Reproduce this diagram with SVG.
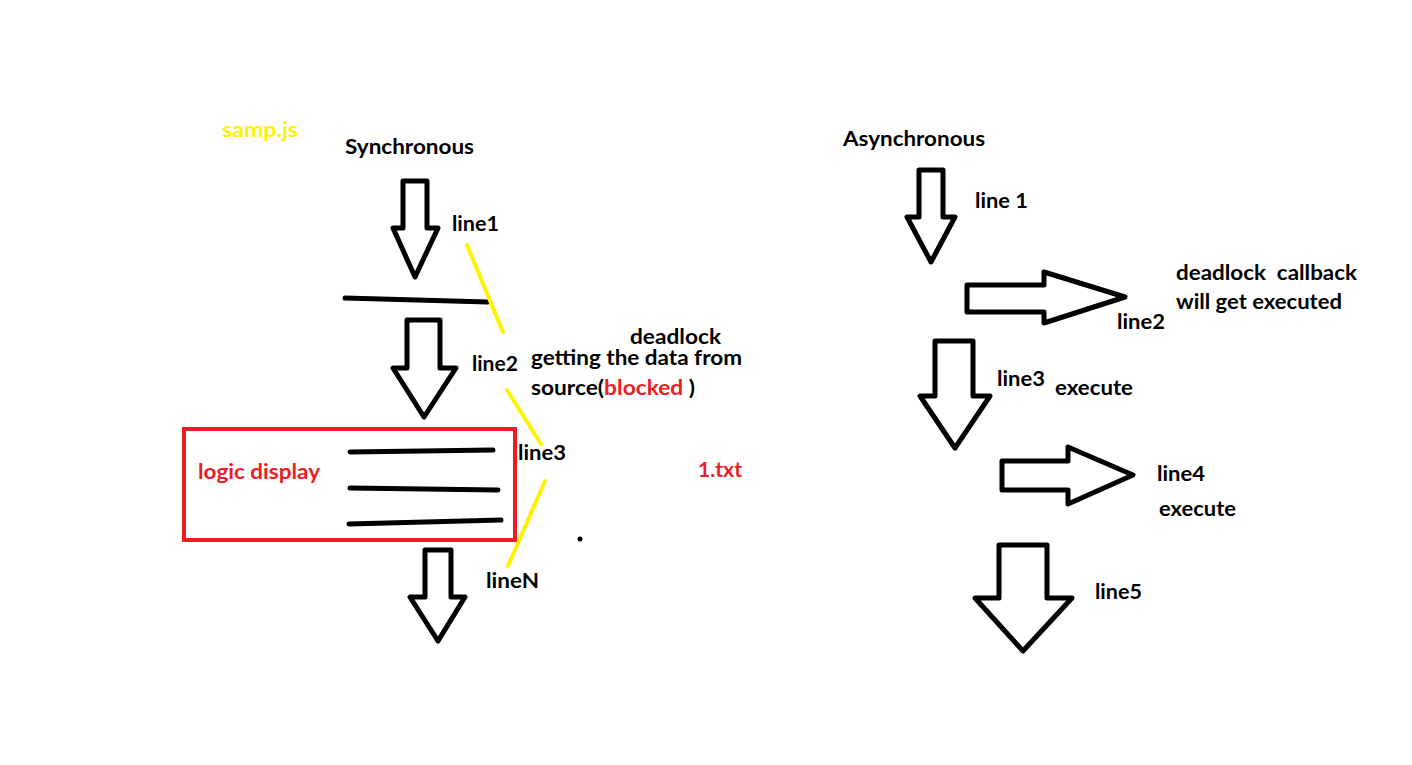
<svg xmlns="http://www.w3.org/2000/svg" width="1412" height="765" viewBox="0 0 1412 765">
<style>
text{font-family:Lato,"Liberation Sans",sans-serif;font-weight:bold;font-size:21px;fill:#000}
.y{fill:#FFF200}
.r{fill:#ED1C24}
.arrow{fill:#fff;stroke:#000;stroke-width:5;stroke-linejoin:round}
.ink{stroke:#000;stroke-width:5;stroke-linecap:round;fill:none}
.hl{stroke:#FFF200;stroke-width:4;stroke-linecap:round;fill:none}
</style>
<rect width="1412" height="765" fill="#fff"/>

<g id="sync">
<text x="222" y="137" class="y" textLength="76" lengthAdjust="spacingAndGlyphs">samp.js</text>
<text x="345" y="154" textLength="129" lengthAdjust="spacingAndGlyphs">Synchronous</text>
<polygon class="arrow" points="403,181 427,181 427,228 438,228 415,277 393,228 403,228"/>
<text x="452" y="231" textLength="47" lengthAdjust="spacingAndGlyphs">line1</text>
<line class="ink" x1="345" y1="298" x2="488" y2="302"/>
<polygon class="arrow" points="407,320 440,320 440,368 456,368 424,417 393,368 407,368"/>
<text x="472" y="371" textLength="46" lengthAdjust="spacingAndGlyphs">line2</text>
<text x="630" y="344" textLength="91" lengthAdjust="spacingAndGlyphs">deadlock</text>
<text x="531" y="365" textLength="211" lengthAdjust="spacingAndGlyphs">getting the data from</text>
<text x="531" y="395" textLength="164" lengthAdjust="spacingAndGlyphs">source(<tspan class="r">blocked</tspan> )</text>
<rect x="184" y="429" width="331" height="111" fill="none" stroke="#ED1C24" stroke-width="4"/>
<text x="198" y="479" class="r" textLength="122" lengthAdjust="spacingAndGlyphs">logic display</text>
<line class="ink" x1="350" y1="452" x2="493" y2="450"/>
<line class="ink" x1="350" y1="488" x2="498" y2="490"/>
<line class="ink" x1="349" y1="524" x2="501" y2="520"/>
<text x="518" y="460" textLength="48" lengthAdjust="spacingAndGlyphs">line3</text>
<text x="698" y="477" class="r" textLength="44" lengthAdjust="spacingAndGlyphs">1.txt</text>
<circle cx="580" cy="539" r="2.5" fill="#000"/>
<polygon class="arrow" points="425,550 451,550 451,597 465,597 438,641 410,597 425,597"/>
<text x="486" y="588" textLength="53" lengthAdjust="spacingAndGlyphs">lineN</text>
</g>

<g id="connectors">
<line class="hl" x1="467" y1="245" x2="503" y2="332"/>
<line class="hl" x1="507" y1="390" x2="541" y2="444"/>
<line class="hl" x1="545" y1="481" x2="508" y2="566"/>
</g>

<g id="async">
<text x="843" y="146" textLength="142" lengthAdjust="spacingAndGlyphs">Asynchronous</text>
<polygon class="arrow" points="919,170 943,170 943,217 955,217 931,262 907,217 919,217"/>
<text x="975" y="208" textLength="53" lengthAdjust="spacingAndGlyphs">line 1</text>
<polygon class="arrow" points="967,285 1044,285 1044,272 1125,297 1044,323 1044,312 967,312"/>
<text x="1117" y="329" textLength="48" lengthAdjust="spacingAndGlyphs">line2</text>
<text x="1176" y="280" xml:space="preserve" textLength="181" lengthAdjust="spacingAndGlyphs">deadlock  callback</text>
<text x="1176" y="309" textLength="166" lengthAdjust="spacingAndGlyphs">will get executed</text>
<polygon class="arrow" points="935,341 973,341 973,396 990,396 955,448 920,396 935,396"/>
<text x="997" y="386" textLength="48" lengthAdjust="spacingAndGlyphs">line3</text>
<text x="1055" y="395" textLength="78" lengthAdjust="spacingAndGlyphs">execute</text>
<polygon class="arrow" points="1002,461 1068,461 1068,447 1133,475 1068,504 1068,490 1002,490"/>
<text x="1157" y="481" textLength="48" lengthAdjust="spacingAndGlyphs">line4</text>
<text x="1159" y="516" textLength="77" lengthAdjust="spacingAndGlyphs">execute</text>
<polygon class="arrow" points="999,545 1047,545 1047,598 1072,598 1023,651 975,598 999,598"/>
<text x="1095" y="599" textLength="47" lengthAdjust="spacingAndGlyphs">line5</text>
</g>
</svg>
